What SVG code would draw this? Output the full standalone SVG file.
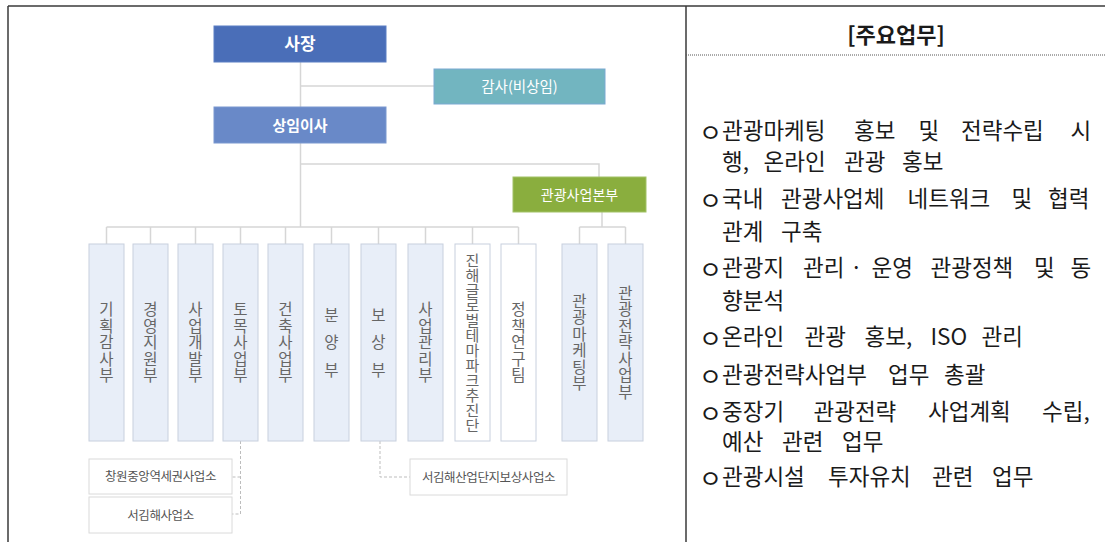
<svg xmlns="http://www.w3.org/2000/svg" width="1105" height="542" viewBox="0 0 1105 542">
<style>
.frame{stroke:#3a3a3a;stroke-width:1.5;fill:none}
.conn{stroke:#d6d6d6;stroke-width:1.5;fill:none}
.dash{stroke:#bdbdbd;stroke-width:1;fill:none;stroke-dasharray:3 2}
.col{fill:#e8eef8;stroke:#c8d0de;stroke-width:1}
.colw{fill:#ffffff;stroke:#c8d0de;stroke-width:1}
.sub{fill:#ffffff;stroke:#dadada;stroke-width:1}
.ct{font-family:"Noto Sans CJK KR","Noto Sans",sans-serif;font-size:15.5px;fill:#666666;text-anchor:middle}
.bt{font-family:"Noto Sans CJK KR","Noto Sans",sans-serif;fill:#ffffff;text-anchor:middle}
.st{font-family:"Noto Sans CJK KR","Noto Sans",sans-serif;font-size:12.5px;fill:#555555;text-anchor:middle;letter-spacing:-0.4px}
.rt{font-family:"Noto Sans CJK KR","Noto Sans",sans-serif;font-size:22.5px;fill:#1a1a1a}
.bu{font-size:25px}
</style>
<rect x="0" y="0" width="1105" height="542" fill="#ffffff"/>
<g id="frame">
<line class="frame" x1="8" y1="6" x2="1105" y2="6"/>
<line class="frame" x1="8" y1="6" x2="8" y2="542"/>
<line class="frame" x1="686" y1="6" x2="686" y2="542"/>
<line x1="686" y1="55" x2="1105" y2="55" stroke="#555" stroke-width="1" stroke-dasharray="1 1"/>
</g>
<g id="connectors">
<line class="conn" x1="300.5" y1="62" x2="300.5" y2="107"/>
<line class="conn" x1="300.5" y1="86" x2="434" y2="86"/>
<line class="conn" x1="300.5" y1="143" x2="300.5" y2="227"/>
<polyline class="conn" points="300.5,164 599,164 599,177"/>
<line class="conn" x1="602" y1="212" x2="602" y2="227"/>
<line class="conn" x1="106.5" y1="227" x2="518.5" y2="227"/>
<line class="conn" x1="579.5" y1="227" x2="625.5" y2="227"/>
<line class="conn" x1="106.5" y1="227" x2="106.5" y2="244"/>
<line class="conn" x1="150.5" y1="227" x2="150.5" y2="244"/>
<line class="conn" x1="195.5" y1="227" x2="195.5" y2="244"/>
<line class="conn" x1="240.5" y1="227" x2="240.5" y2="244"/>
<line class="conn" x1="285.5" y1="227" x2="285.5" y2="244"/>
<line class="conn" x1="331.5" y1="227" x2="331.5" y2="244"/>
<line class="conn" x1="378.5" y1="227" x2="378.5" y2="244"/>
<line class="conn" x1="425.5" y1="227" x2="425.5" y2="244"/>
<line class="conn" x1="472.5" y1="227" x2="472.5" y2="244"/>
<line class="conn" x1="518.5" y1="227" x2="518.5" y2="244"/>
<line class="conn" x1="579.5" y1="227" x2="579.5" y2="244"/>
<line class="conn" x1="625.5" y1="227" x2="625.5" y2="244"/>
<polyline class="dash" points="240.5,441 240.5,514 232,514"/>
<line class="dash" x1="240.5" y1="477" x2="232" y2="477"/>
<polyline class="dash" points="380,441 380,477 410,477"/>
</g>
<g id="n-ceo">
<rect x="214" y="26" width="172" height="36" fill="#4a6eb8" stroke="#5a7ec4" stroke-width="1"/>
<text class="bt" x="300" y="50" font-size="17" font-weight="bold">사장</text>
</g>
<g id="n-audit">
<rect x="434" y="69" width="171" height="35" fill="#72b5c0" stroke="#7aa9d2" stroke-width="1"/>
<text class="bt" x="519.5" y="92" font-size="14.5">감사(비상임)</text>
</g>
<g id="n-director">
<rect x="214" y="107" width="172" height="36" fill="#6989c8" stroke="#7a98d0" stroke-width="1"/>
<text class="bt" x="300" y="131" font-size="15" font-weight="bold">상임이사</text>
</g>
<g id="n-tourism-hq">
<rect x="513" y="177" width="133" height="35" fill="#8aae3e" stroke="#a2c266" stroke-width="1"/>
<text class="bt" x="579.5" y="200" font-size="14">관광사업본부</text>
</g>
<g id="n-c1">
<rect class="col" x="89" y="244" width="35" height="197"/>
<text class="ct"><tspan x="106.5" y="315">기</tspan><tspan x="106.5" y="331.5">획</tspan><tspan x="106.5" y="348">감</tspan><tspan x="106.5" y="364.5">사</tspan><tspan x="106.5" y="381">부</tspan></text>
</g>
<g id="n-c2">
<rect class="col" x="133" y="244" width="35" height="197"/>
<text class="ct"><tspan x="150.5" y="315">경</tspan><tspan x="150.5" y="331.5">영</tspan><tspan x="150.5" y="348">지</tspan><tspan x="150.5" y="364.5">원</tspan><tspan x="150.5" y="381">부</tspan></text>
</g>
<g id="n-c3">
<rect class="col" x="178" y="244" width="35" height="197"/>
<text class="ct"><tspan x="195.5" y="315">사</tspan><tspan x="195.5" y="331.5">업</tspan><tspan x="195.5" y="348">개</tspan><tspan x="195.5" y="364.5">발</tspan><tspan x="195.5" y="381">부</tspan></text>
</g>
<g id="n-c4">
<rect class="col" x="223" y="244" width="35" height="197"/>
<text class="ct"><tspan x="240.5" y="315">토</tspan><tspan x="240.5" y="331.5">목</tspan><tspan x="240.5" y="348">사</tspan><tspan x="240.5" y="364.5">업</tspan><tspan x="240.5" y="381">부</tspan></text>
</g>
<g id="n-c5">
<rect class="col" x="268" y="244" width="35" height="197"/>
<text class="ct"><tspan x="285.5" y="315">건</tspan><tspan x="285.5" y="331.5">축</tspan><tspan x="285.5" y="348">사</tspan><tspan x="285.5" y="364.5">업</tspan><tspan x="285.5" y="381">부</tspan></text>
</g>
<g id="n-c6">
<rect class="col" x="314" y="244" width="35" height="197"/>
<text class="ct"><tspan x="331.5" y="320.5">분</tspan><tspan x="331.5" y="348">양</tspan><tspan x="331.5" y="375.5">부</tspan></text>
</g>
<g id="n-c7">
<rect class="col" x="361" y="244" width="35" height="197"/>
<text class="ct"><tspan x="378.5" y="320.5">보</tspan><tspan x="378.5" y="348">상</tspan><tspan x="378.5" y="375.5">부</tspan></text>
</g>
<g id="n-c8">
<rect class="col" x="408" y="244" width="35" height="197"/>
<text class="ct"><tspan x="425.5" y="315">사</tspan><tspan x="425.5" y="331.5">업</tspan><tspan x="425.5" y="348">관</tspan><tspan x="425.5" y="364.5">리</tspan><tspan x="425.5" y="381">부</tspan></text>
</g>
<g id="n-c9">
<rect class="colw" x="455" y="244" width="35" height="197"/>
<text class="ct" style="font-size:15px"><tspan x="472.5" y="265.5">진</tspan><tspan x="472.5" y="280.5">해</tspan><tspan x="472.5" y="295.5">글</tspan><tspan x="472.5" y="310.5">로</tspan><tspan x="472.5" y="325.5">벌</tspan><tspan x="472.5" y="340.5">테</tspan><tspan x="472.5" y="355.5">마</tspan><tspan x="472.5" y="370.5">파</tspan><tspan x="472.5" y="385.5">크</tspan><tspan x="472.5" y="400.5">추</tspan><tspan x="472.5" y="415.5">진</tspan><tspan x="472.5" y="430.5">단</tspan></text>
</g>
<g id="n-c10">
<rect class="colw" x="501" y="244" width="35" height="197"/>
<text class="ct"><tspan x="518.5" y="315">정</tspan><tspan x="518.5" y="331.5">책</tspan><tspan x="518.5" y="348">연</tspan><tspan x="518.5" y="364.5">구</tspan><tspan x="518.5" y="381">팀</tspan></text>
</g>
<g id="n-c11">
<rect class="col" x="562" y="244" width="35" height="197"/>
<text class="ct"><tspan x="579.5" y="306.75">관</tspan><tspan x="579.5" y="323.25">광</tspan><tspan x="579.5" y="339.75">마</tspan><tspan x="579.5" y="356.25">케</tspan><tspan x="579.5" y="372.75">팅</tspan><tspan x="579.5" y="389.25">부</tspan></text>
</g>
<g id="n-c12">
<rect class="col" x="608" y="244" width="35" height="197"/>
<text class="ct"><tspan x="625.5" y="298.5">관</tspan><tspan x="625.5" y="315">광</tspan><tspan x="625.5" y="331.5">전</tspan><tspan x="625.5" y="348">략</tspan><tspan x="625.5" y="364.5">사</tspan><tspan x="625.5" y="381">업</tspan><tspan x="625.5" y="397.5">부</tspan></text>
</g>
<g id="n-s1">
<rect class="sub" x="89" y="459" width="143" height="35"/>
<text class="st" x="160.5" y="481">창원중앙역세권사업소</text>
</g>
<g id="n-s2">
<rect class="sub" x="89" y="497" width="143" height="36"/>
<text class="st" x="160.5" y="519.5">서김해사업소</text>
</g>
<g id="n-s3">
<rect class="sub" x="410" y="459" width="157" height="36"/>
<text class="st" x="488.5" y="481.5">서김해산업단지보상사업소</text>
</g>
<g id="panel">
<text x="896" y="43" font-family="'Noto Sans CJK KR','Noto Sans',sans-serif" font-size="22" font-weight="bold" fill="#1a1a1a" text-anchor="middle">[주요업무]</text>
<text class="rt" y="139"><tspan class="bu" x="699" dy="3">ㅇ</tspan><tspan x="722" dy="-3">관광마케팅 </tspan><tspan x="854">홍보 </tspan><tspan x="918.5">및 </tspan><tspan x="961">전략수립 </tspan><tspan x="1070.5">시</tspan></text>
<text class="rt" y="170"><tspan x="722">행, </tspan><tspan x="763.5">온라인 </tspan><tspan x="844">관광 </tspan><tspan x="902">홍보</tspan></text>
<text class="rt" y="207"><tspan class="bu" x="699" dy="3">ㅇ</tspan><tspan x="722" dy="-3">국내 </tspan><tspan x="781">관광사업체 </tspan><tspan x="907.5">네트워크 </tspan><tspan x="1011.5">및 </tspan><tspan x="1048">협력</tspan></text>
<text class="rt" y="240"><tspan x="722">관계 </tspan><tspan x="781">구축</tspan></text>
<text class="rt" y="276"><tspan class="bu" x="699" dy="3">ㅇ</tspan><tspan x="722" dy="-3">관광지 </tspan><tspan x="803">관리 </tspan><tspan x="850">· </tspan><tspan x="871.5">운영 </tspan><tspan x="930.5">관광정책 </tspan><tspan x="1034">및 </tspan><tspan x="1070.5">동</tspan></text>
<text class="rt" y="309"><tspan x="722">향분석</tspan></text>
<text class="rt" y="345"><tspan class="bu" x="699" dy="3">ㅇ</tspan><tspan x="722" dy="-3">온라인 </tspan><tspan x="804.5">관광 </tspan><tspan x="864.5">홍보, </tspan><tspan x="930.5">ISO </tspan><tspan x="981.5">관리</tspan></text>
<text class="rt" y="383"><tspan class="bu" x="699" dy="3">ㅇ</tspan><tspan x="722" dy="-3">관광전략사업부 </tspan><tspan x="888">업무 </tspan><tspan x="944">총괄</tspan></text>
<text class="rt" y="420"><tspan class="bu" x="699" dy="3">ㅇ</tspan><tspan x="722" dy="-3">중장기 </tspan><tspan x="813.5">관광전략 </tspan><tspan x="928">사업계획 </tspan><tspan x="1042">수립,</tspan></text>
<text class="rt" y="450"><tspan x="722">예산 </tspan><tspan x="782">관련 </tspan><tspan x="842">업무</tspan></text>
<text class="rt" y="485"><tspan class="bu" x="699" dy="3">ㅇ</tspan><tspan x="722" dy="-3">관광시설 </tspan><tspan x="828">투자유치 </tspan><tspan x="932">관련 </tspan><tspan x="992">업무</tspan></text>
</g>
</svg>
